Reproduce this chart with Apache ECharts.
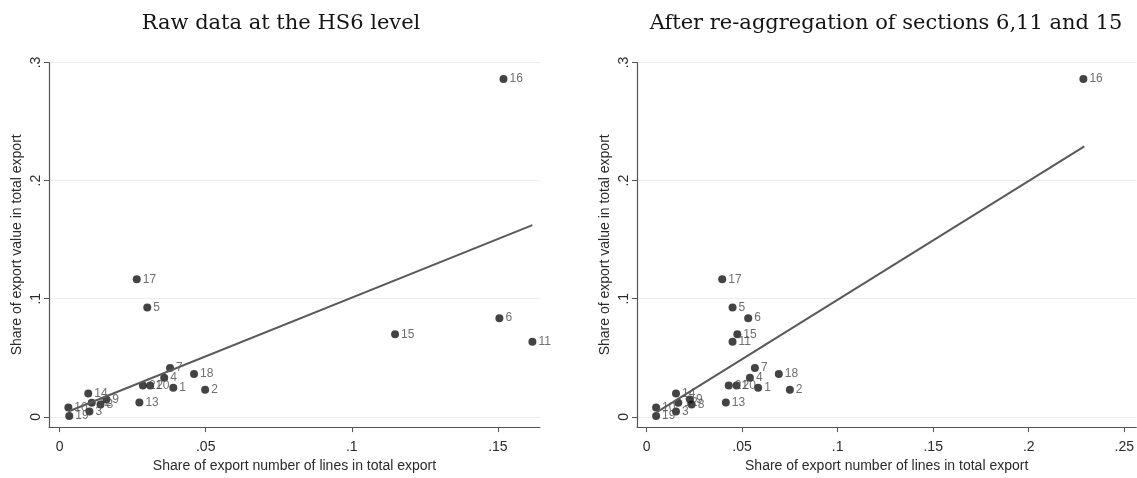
<!DOCTYPE html>
<html><head><meta charset="utf-8">
<script src="https://cdn.jsdelivr.net/npm/echarts@6/dist/echarts.min.js"></script>
<style>html,body{margin:0;padding:0;background:#fff}#c{width:1137px;height:478px}</style>
</head><body><div id="c"></div>
<script>
// HS sections
const sections = ['1','2','3','4','5','6','7','8','9','10','11','12','13','14','15','16','17','18','19','20','21'];
// Share of export value in total export (y)
const shareValue = [0.0245,0.0228,0.0045,0.0330,0.0925,0.0835,0.0413,0.0104,0.0146,0.0079,0.0636,0.0118,0.0120,0.0196,0.0698,0.2860,0.1165,0.0362,0.0006,0.0265,0.0265];
// Share of export number of lines, raw HS6 data (x, left panel)
const shareLinesRaw = [0.0389,0.0498,0.0102,0.0358,0.0300,0.1505,0.0378,0.0140,0.0160,0.0030,0.1618,0.0110,0.0273,0.0098,0.1148,0.1519,0.0264,0.0460,0.0033,0.0310,0.0285];
// Share of export number of lines after re-aggregation (x, right panel)
const shareLinesAgg = [0.0584,0.0750,0.0154,0.0541,0.0450,0.0532,0.0567,0.0236,0.0227,0.0050,0.0450,0.0166,0.0415,0.0154,0.0475,0.2286,0.0396,0.0692,0.0050,0.0471,0.0430];
// Fitted lines (endpoints)
const fitRaw = [[0.003,0.0045],[0.1618,0.1623]];
const fitAgg = [[0.005,0.0035],[0.2291,0.2290]];
const panelTitles = ['Raw data at the HS6 level','After re-aggregation of sections 6,11 and 15'];
const xTicksRaw = [0,0.05,0.1,0.15];
const xTicksAgg = [0,0.05,0.1,0.15,0.2,0.25];
const yTicks = [0,0.1,0.2,0.3];
const xName = 'Share of export number of lines in total export';
const yName = 'Share of export value in total export';

const fmt = v => { if (Math.abs(v) < 1e-9) return '0'; return String(+v.toFixed(2)).replace(/^0\./,'.'); };
const chart = echarts.init(document.getElementById('c'), null, {renderer:'canvas'});
const axisCol = '#555';
const txtCol = '#2a2a2a';
const font = 'Liberation Sans';
function xAxis(idx, min, max, ticks){
  return {type:'value', gridIndex:idx, min, max, name:xName, nameLocation:'middle', nameGap:30,
    nameTextStyle:{fontFamily:font, fontSize:14, color:txtCol},
    axisLine:{show:true, onZero:false, lineStyle:{color:axisCol, width:1.2}},
    axisTick:{show:true, length:5, customValues:ticks, lineStyle:{color:axisCol}},
    axisLabel:{customValues:ticks, formatter:fmt, margin:13, fontFamily:font, fontSize:14, color:txtCol},
    splitLine:{show:false}};
}
function yAxis(idx){
  return {type:'value', gridIndex:idx, min:-0.00875, max:0.3, name:yName, nameLocation:'middle', nameGap:25,
    nameTextStyle:{fontFamily:font, fontSize:14, color:txtCol},
    axisLine:{show:true, onZero:false, lineStyle:{color:axisCol, width:1.2}},
    axisTick:{show:true, length:5, customValues:yTicks, lineStyle:{color:axisCol}},
    axisLabel:{customValues:yTicks, formatter:fmt, rotate:90, margin:6, fontFamily:font, fontSize:14, color:txtCol},
    splitLine:{show:false}};
}
function scatter(idx, xs){
  return {type:'scatter', xAxisIndex:idx, yAxisIndex:idx, symbolSize:8,
    itemStyle:{color:'#141414'},
    label:{show:true, position:'right', distance:2, formatter:p=>p.name, fontFamily:font, fontSize:12, color:'#4a4a4a'},
    data: sections.map((s,i)=>({name:s, value:[xs[i], shareValue[i]]})),
    markLine:{silent:true, symbol:'none', label:{show:false}, lineStyle:{color:'#ececec', type:'solid', width:1},
      data: yTicks.map(v=>({yAxis:v})), z:0}, z:3};
}
function fit(idx, pts){
  return {type:'line', xAxisIndex:idx, yAxisIndex:idx, data:pts, symbol:'none', silent:true,
    lineStyle:{color:'#5a5a5a', width:2}, z:4};
}
const titleStyle = {fontFamily:'DejaVu Serif', fontSize:21, fontWeight:'normal', color:'#141414'};
chart.setOption({
  animation:false,
  backgroundColor:'#fff',
  title:[
    {text:panelTitles[0], left:276, top:8, textAlign:'center', textStyle:titleStyle},
    {text:panelTitles[1], left:881, top:8, textAlign:'center', textStyle:titleStyle}
  ],
  grid:[
    {left:49, right:597, top:62.5, bottom:45},
    {left:637, right:0, top:62.5, bottom:45}
  ],
  xAxis:[xAxis(0,-0.00363,0.1644,xTicksRaw), xAxis(1,-0.005,0.2563,xTicksAgg)],
  yAxis:[yAxis(0), yAxis(1)],
  series:[scatter(0, shareLinesRaw), fit(0, fitRaw), scatter(1, shareLinesAgg), fit(1, fitAgg)]
});
</script></body></html>
